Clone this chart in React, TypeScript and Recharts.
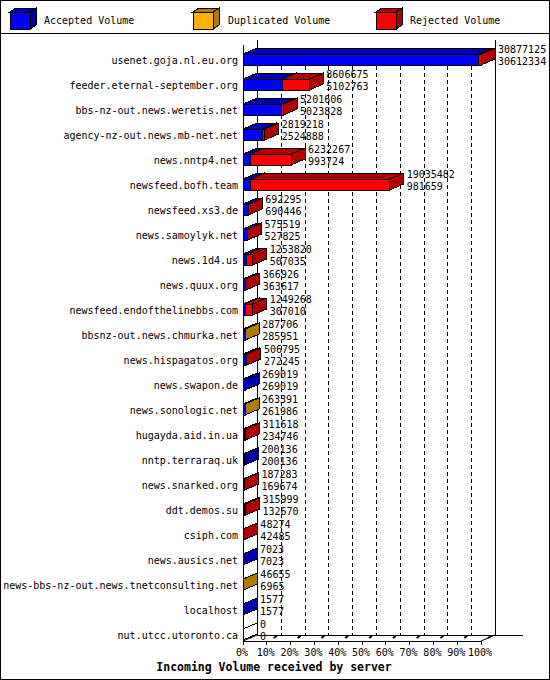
import React from 'react';
import { BarChart, Bar, XAxis, YAxis, CartesianGrid, LabelList } from 'recharts';

// servers, top to bottom
const servers = [
  'usenet.goja.nl.eu.org',
  'feeder.eternal-september.org',
  'bbs-nz-out.news.weretis.net',
  'agency-nz-out.news.mb-net.net',
  'news.nntp4.net',
  'newsfeed.bofh.team',
  'newsfeed.xs3.de',
  'news.samoylyk.net',
  'news.1d4.us',
  'news.quux.org',
  'newsfeed.endofthelinebbs.com',
  'bbsnz-out.news.chmurka.net',
  'news.hispagatos.org',
  'news.swapon.de',
  'news.sonologic.net',
  'hugayda.aid.in.ua',
  'nntp.terraraq.uk',
  'news.snarked.org',
  'ddt.demos.su',
  'csiph.com',
  'news.ausics.net',
  'news-bbs-nz-out.news.tnetconsulting.net',
  'localhost',
  'nut.utcc.utoronto.ca',
];

const totalVolume = [
  30877125, 8606675, 5201606, 2819218, 6232267, 19035482, 692295, 575519,
  1253820, 366926, 1249268, 287706, 506795, 269019, 263391, 311618,
  200136, 187283, 315999, 48274, 7023, 46655, 1577, 0,
];

const acceptedVolume = [
  30612334, 5102763, 5023828, 2524888, 993724, 981659, 690446, 527825,
  507035, 363617, 307010, 285951, 272245, 269019, 261986, 234746,
  200136, 169674, 132670, 42485, 7023, 6965, 1577, 0,
];

const duplicatedVolume = [
  0, 0, 0, 0, 0, 0, 0, 0,
  0, 0, 0, 1755, 0, 0, 1405, 0,
  0, 0, 0, 0, 0, 39690, 0, 0,
];

const rejectedVolume = [
  264791, 3503912, 177778, 294330, 5238543, 18053823, 1849, 47694,
  746785, 3309, 942258, 0, 234550, 0, 0, 76872,
  0, 17609, 183329, 5789, 0, 0, 0, 0,
];

const pctTicks = [0, 10, 20, 30, 40, 50, 60, 70, 80, 90, 100];

const maxTotal = Math.max(...totalVolume);

const data = servers.map((name, i) => ({
  name,
  total: totalVolume[i],
  accepted: acceptedVolume[i],
  duplicated: duplicatedVolume[i],
  rejected: rejectedVolume[i],
}));

const FONT = 'DejaVu Sans Mono';
const DX = 14;
const DY = 6;
const LEFT = 243;
const RIGHT = 481;
const FLOOR = 641;

const makeBox = (front: string, dark: string, key: string) => (props: any) => {
  const { x, y, width, height, payload } = props;
  if (!payload) return <g />;
  if (!(payload[key] > 0)) {
    // empty server: outline only
    if (key === 'accepted' && payload.total === 0) {
      return (
        <polygon
          points={`${x},${y} ${x + DX},${y - DY} ${x + DX},${y + height - DY} ${x},${y + height}`}
          fill="#fff" stroke="#000" shapeRendering="crispEdges"
        />
      );
    }
    return <g />;
  }
  const w = Math.max(width, 0);
  const x2 = x + w;
  return (
    <g stroke="#000" strokeWidth={1} shapeRendering="crispEdges">
      <rect x={x} y={y} width={w} height={height} fill={front} />
      <polygon points={`${x},${y} ${x + DX},${y - DY} ${x2 + DX},${y - DY} ${x2},${y}`} fill={dark} />
      <polygon
        points={`${x2},${y} ${x2 + DX},${y - DY} ${x2 + DX},${y + height - DY} ${x2},${y + height}`}
        fill={dark}
      />
    </g>
  );
};

const ServerTick = (props: any) => {
  const { y, payload } = props;
  return (
    <text x={LEFT - 5} y={y + 4} textAnchor="end" fontFamily={FONT} fontSize={10} fill="#000">
      {payload.value}
    </text>
  );
};

const PctTick = (props: any) => {
  const { x, payload } = props;
  const pct = Math.round((payload.value / maxTotal) * 100);
  return (
    <g>
      <line x1={x} y1={FLOOR} x2={x} y2={FLOOR + 4} stroke="#000" shapeRendering="crispEdges" />
      <line x1={x + 7} y1={FLOOR - 3} x2={x + 10} y2={FLOOR - 5} stroke="#000" strokeWidth={2} />
      <text x={x - 1} y={FLOOR + 15} textAnchor="middle" fontFamily={FONT} fontSize={10} fill="#000">
        {pct}%
      </text>
    </g>
  );
};

const gridLine = (p: any) => {
  const x = Math.round(p.x1) + DX + 0.5;
  const edge = Math.abs(p.x1 - LEFT) < 1 || Math.abs(p.x1 - RIGHT) < 1;
  return (
    <line
      key={`g${p.index ?? p.x1}`}
      x1={x} y1={edge ? 40 : 66} x2={x} y2={FLOOR - DY}
      stroke="#000" strokeWidth={1}
      strokeDasharray={edge ? undefined : '4 3'}
    />
  );
};

const ValueLabels = (props: any) => {
  const { x, y, width, index } = props;
  const lx = x + width + DX + 3;
  return (
    <g key={`v${index}`} fontFamily={FONT} fontSize={10} fill="#000">
      <text x={lx} y={y - 1}>{totalVolume[index]}</text>
      <text x={lx} y={y + 11}>{acceptedVolume[index]}</text>
    </g>
  );
};

const legendItems = [
  { label: 'Accepted Volume', front: '#0000ff', dark: '#0000a8', x: 10, tx: 44 },
  { label: 'Duplicated Volume', front: '#ffb000', dark: '#b07c00', x: 193, tx: 228 },
  { label: 'Rejected Volume', front: '#ff0000', dark: '#b00000', x: 376, tx: 410 },
];

const Frame = () => (
  <svg width={550} height={680} style={{ position: 'absolute', left: 0, top: 0 }}>
    <rect x={0.5} y={0.5} width={549} height={679} fill="#fff" stroke="#000" />
    <line x1={0} y1={33.5} x2={550} y2={33.5} stroke="#000" />
    {legendItems.map((it) => (
      <g key={it.label} stroke="#000" shapeRendering="crispEdges">
        <polygon points={`${it.x},12 ${it.x + 6},8 ${it.x + 26},8 ${it.x + 20},12`} fill={it.dark} />
        <polygon points={`${it.x + 20},12 ${it.x + 26},8 ${it.x + 26},25 ${it.x + 20},29`} fill={it.dark} />
        <rect x={it.x} y={12} width={20} height={17} fill={it.front} />
        <text x={it.tx} y={24} stroke="none" fontFamily={FONT} fontSize={10} fill="#000">
          {it.label}
        </text>
      </g>
    ))}
    <g stroke="#000" strokeWidth={1}>
      <line x1={LEFT + 0.5} y1={45} x2={LEFT + 0.5} y2={FLOOR} />
      <line x1={LEFT} y1={FLOOR + 0.5} x2={RIGHT} y2={FLOOR + 0.5} />
      <line x1={RIGHT} y1={FLOOR} x2={RIGHT + DX} y2={FLOOR - DY} />
      <line x1={LEFT} y1={FLOOR} x2={LEFT + DX} y2={FLOOR - DY} />
      <line x1={LEFT + DX} y1={FLOOR - DY + 0.5} x2={523} y2={FLOOR - DY + 0.5} />
    </g>
    <text x={274} y={671} textAnchor="middle" fontFamily={FONT} fontSize={11.5} fontWeight="bold" fill="#000">
      Incoming Volume received by server
    </text>
  </svg>
);

export default function App() {
  return (
    <div style={{ position: 'relative', width: 550, height: 680 }}>
      <style>{'body{margin:0}'}</style>
      <Frame />
      <div style={{ position: 'absolute', left: 0, top: 0 }}>
        <BarChart
          width={550}
          height={680}
          data={data}
          layout="vertical"
          margin={{ top: 47, right: 550 - RIGHT, bottom: 0, left: 0 }}
        >
          <CartesianGrid horizontal={false} vertical={gridLine} />
          <XAxis
            type="number"
            domain={[0, maxTotal]}
            ticks={pctTicks.map((p) => (p / 100) * maxTotal)}
            height={33}
            axisLine={false}
            tickLine={false}
            tick={PctTick}
            interval={0}
          />
          <YAxis
            type="category"
            dataKey="name"
            width={LEFT}
            axisLine={false}
            tickLine={false}
            tick={ServerTick}
            interval={0}
          />
          <Bar dataKey="accepted" stackId="v" barSize={11} isAnimationActive={false}
            shape={makeBox('#0000ff', '#0000a8', 'accepted')} />
          <Bar dataKey="duplicated" stackId="v" barSize={11} isAnimationActive={false}
            shape={makeBox('#ffb000', '#b07c00', 'duplicated')} />
          <Bar dataKey="rejected" stackId="v" barSize={11} isAnimationActive={false}
            shape={makeBox('#ff0000', '#b00000', 'rejected')}>
            <LabelList dataKey="total" content={ValueLabels} />
          </Bar>
        </BarChart>
      </div>
    </div>
  );
}
